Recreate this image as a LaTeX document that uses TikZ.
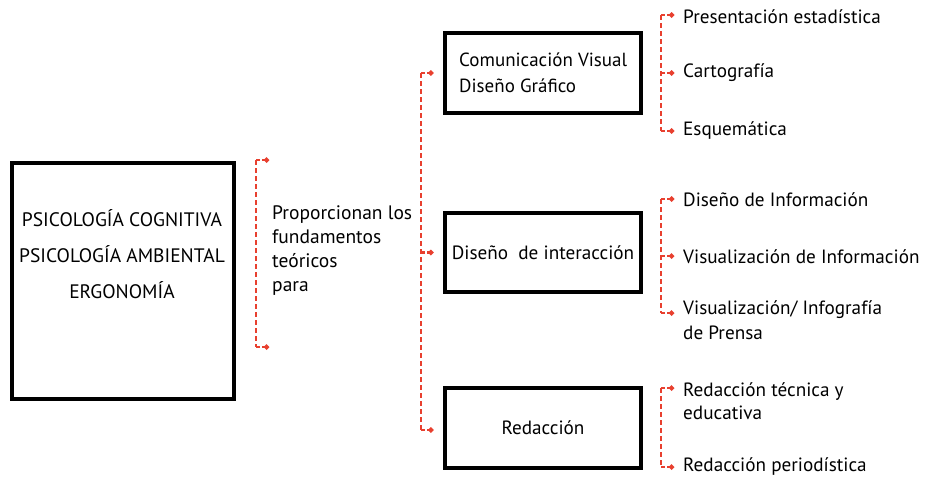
\documentclass[tikz,border=0pt]{standalone}
\usepackage{fontspec}
\setmainfont{PT Sans}
\usetikzlibrary{arrows.meta}
\definecolor{rd}{HTML}{E8402F}
\begin{document}
\begin{tikzpicture}[x=1pt,y=-1pt,
  font=\fontsize{19.2}{23}\selectfont,
  bx/.style={draw=black,line width=3.2pt,inner sep=0pt},
  lbl/.style={anchor=west,inner sep=0pt,align=left},
  rdash/.style={draw=rd,line width=2.8pt,dash pattern=on 5pt off 3pt},
  tip/.style={-{Circle[length=5pt,width=5pt]},rd,line width=2.4pt,dash pattern=on 3.5pt off 2.5pt}]
\useasboundingbox (0,0) rectangle (927,482);
% main box
\node[bx,minimum width=222pt,minimum height=236pt] (main) at (123,281) {};
\node[align=center,inner sep=0pt,font=\fontsize{19.5}{36}\selectfont] (maint) at (122,254)
  {PSICOLOGÍA COGNITIVA\\PSICOLOGÍA AMBIENTAL\\ERGONOMÍA};
\node[lbl,font=\fontsize{19.5}{24}\selectfont] (prop) at (272,251) {Proporcionan los\\fundamentos\\teóricos\\para};
% middle boxes
\node[bx,minimum width=196pt,minimum height=80pt] (cv) at (543,73) {};
\node[lbl,font=\fontsize{19}{26}\selectfont] (cvt) at (459,73) {Comunicación Visual\\Diseño Gráfico};
\node[bx,minimum width=196pt,minimum height=79pt] (di) at (543,252.5) {Diseño \ de interacción};
\node[bx,minimum width=196pt,minimum height=80pt] (re) at (543,428) {Redacción};
% right labels
\node[lbl] (l1) at (683,17) {Presentación estadística};
\node[lbl] (l2) at (683,73) {Cartografía};
\node[lbl] (l3) at (683,131) {Esquemática};
\node[lbl] (l4) at (683,200) {Diseño de Información};
\node[lbl] (l5) at (683,257) {Visualización de Información};
\node[lbl,font=\fontsize{19.2}{25}\selectfont] (l6) at (683,320.5) {Visualización/ Infografía\\de Prensa};
\node[lbl,font=\fontsize{19.2}{23}\selectfont] (l7) at (683,401) {Redacción técnica y\\educativa};
\node[lbl] (l8) at (683,467) {Redacción periodística};
% bracket 1
\coordinate (b1t) at (256,160);
\coordinate (b1b) at (256,347);
\draw[rdash,line width=2pt] (b1t) -- (b1b);
\draw[tip] (b1t) -- ++(13,0);
\draw[tip] (b1b) -- ++(13,0);
% bracket 2
\coordinate (b2t) at (421,73);
\coordinate (b2b) at (421,430);
\draw[rdash] (b2t) -- (b2b);
\draw[tip] (b2t) -- ([xshift=-10pt]cv.west);
\draw[tip] (421,252.5) -- ([xshift=-10pt]di.west);
\draw[tip] (b2b) -- ([xshift=-10pt]re.west |- b2b);
% bracket 3
\coordinate (c1t) at (661,15);
\coordinate (c1b) at (661,131);
\draw[rdash] (c1t) -- (c1b);
\draw[tip] (c1t) -- ([xshift=-9pt]l1.west |- c1t);
\draw[tip] (661,73) -- ([xshift=-9pt]l2.west);
\draw[tip] (c1b) -- ([xshift=-9pt]l3.west);
% bracket 4
\coordinate (c2t) at (661,199);
\coordinate (c2b) at (661,313);
\draw[rdash] (c2t) -- (c2b);
\draw[tip] (c2t) -- ([xshift=-9pt]l4.west |- c2t);
\draw[tip] (661,256) -- ([xshift=-9pt]l5.west |- 661,256);
\draw[tip] (c2b) -- ([xshift=-9pt]l6.west |- c2b);
% bracket 5
\coordinate (c3t) at (661,388);
\coordinate (c3b) at (661,467);
\draw[rdash] (c3t) -- (c3b);
\draw[tip] (c3t) -- ([xshift=-9pt]l7.west |- c3t);
\draw[tip] (c3b) -- ([xshift=-9pt]l8.west);
\end{tikzpicture}
\end{document}
